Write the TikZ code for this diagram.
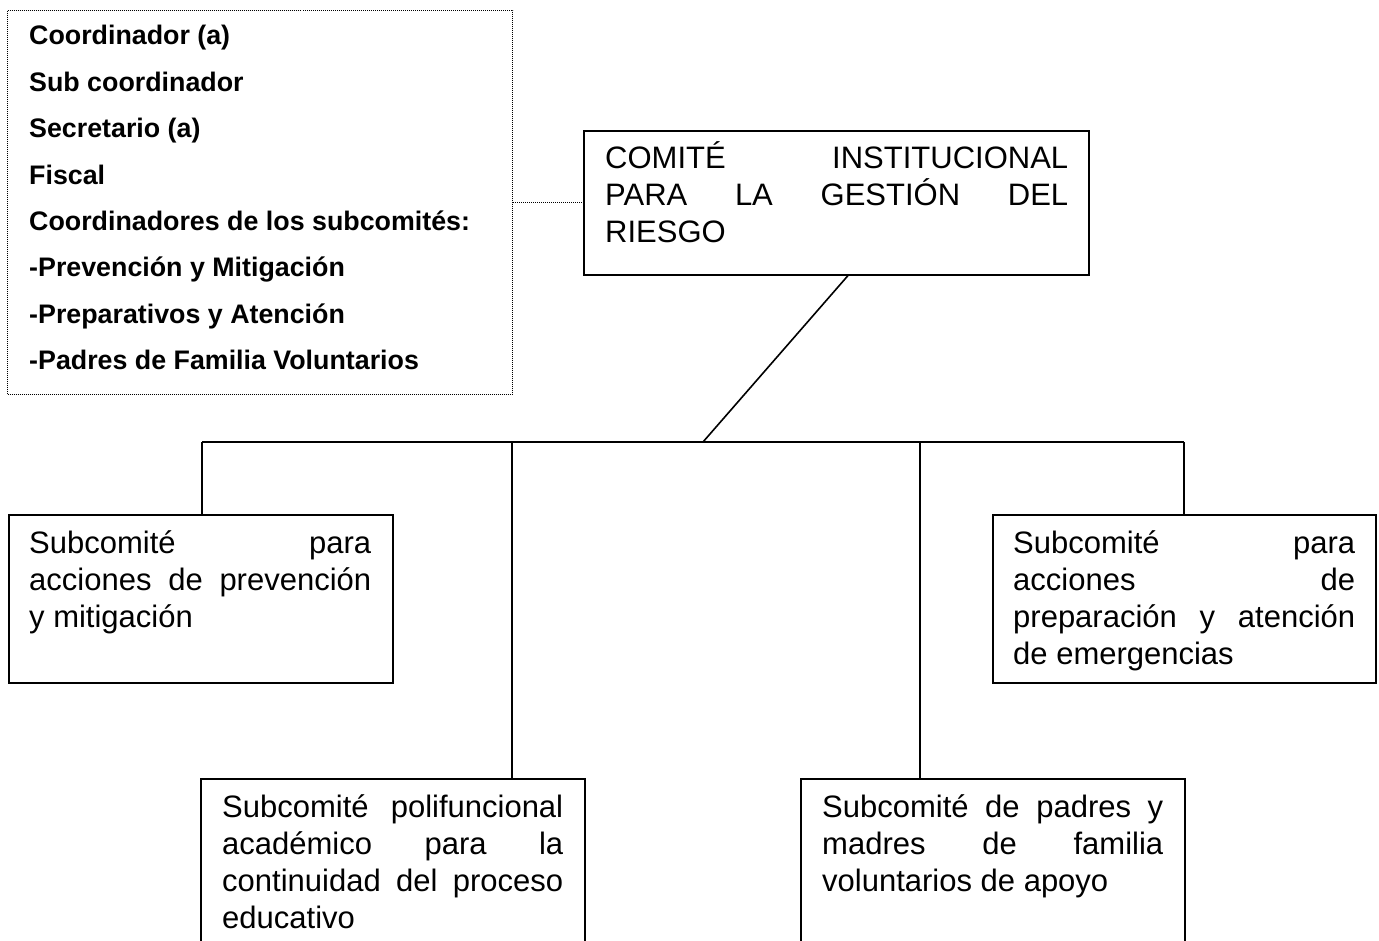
\documentclass[tikz,border=0pt]{standalone}
\usepackage{fontspec}
\setmainfont{Liberation Sans}
\usetikzlibrary{calc}
\newcommand\jline[2]{\makebox[#1pt][s]{#2}}
\begin{document}
\begin{tikzpicture}[x=1pt,y=-1pt]
\tikzset{
  box/.style={draw, line width=1.6pt, rectangle, inner sep=0pt, anchor=north west},
  dotbox/.style={draw, line width=1pt, dash pattern=on 1pt off 1pt, rectangle, inner sep=0pt, anchor=north west},
  txt/.style={anchor=base west, inner sep=0pt, align=left, font=\fontsize{31}{37}\selectfont},
  item/.style={anchor=base west, inner sep=0pt, font=\bfseries\fontsize{26.8}{30}\selectfont},
  link/.style={line width=1.6pt},
  dotlink/.style={line width=1pt, dash pattern=on 1pt off 1pt},
}
\clip (0,0) rectangle (1379,941);
\fill[white] (0,0) rectangle (1379,941);

% members box
\node[dotbox, minimum width=505pt, minimum height=384pt] (members) at (7,10) {};
\node[item] (m1) at (29,45) {Coordinador (a)};
\node[item] (m2) at (29,91.4) {Sub coordinador};
\node[item] (m3) at (29,137.8) {Secretario (a)};
\node[item] (m4) at (29,184.2) {Fiscal};
\node[item] (m5) at (29,230.6) {Coordinadores de los subcomités:};
\node[item] (m6) at (29,277) {-Prevención y Mitigación};
\node[item] (m7) at (29,323.4) {-Preparativos y Atención};
\node[item] (m8) at (29,369.8) {-Padres de Familia Voluntarios};

% main committee (base anchor = baseline of last line)
\node[box, minimum width=505pt, minimum height=144pt] (comite) at (583,130) {};
\node[txt] (comiteT) at (605,243) {\jline{463}{COMITÉ INSTITUCIONAL}\\\jline{463}{PARA LA GESTIÓN DEL}\\RIESGO};

% subcommittees
\node[box, minimum width=384pt, minimum height=168pt] (prev) at (8,514) {};
\node[txt] (prevT) at (29,627) {\jline{342}{Subcomité para}\\\jline{342}{acciones de prevención}\\y mitigación};

\node[box, minimum width=383pt, minimum height=168pt] (prep) at (992,514) {};
\node[txt] (prepT) at (1013,664) {\jline{342}{Subcomité para}\\\jline{342}{acciones de}\\\jline{342}{preparación y atención}\\de emergencias};

\node[box, minimum width=384pt, minimum height=220pt] (acad) at (200,778) {};
\node[txt] (acadT) at (222,928) {\jline{341}{Subcomité polifuncional}\\\jline{341}{académico para la}\\\jline{341}{continuidad del proceso}\\educativo};

\node[box, minimum width=384pt, minimum height=220pt] (padres) at (800,778) {};
\node[txt] (padresT) at (822,891) {\jline{341}{Subcomité de padres y}\\\jline{341}{madres de familia}\\voluntarios de apoyo};

% connectors
\coordinate (top) at ($(comite.south west)!0.523!(comite.south east)$);
\coordinate (hub) at (703,442);
\coordinate (barL) at (202,442);
\coordinate (barA) at (512,442);
\coordinate (barB) at (920,442);
\coordinate (barR) at (1184,442);

\draw[dotlink] (members.east |- comite.west) -- (comite.west);
\draw[link] (top) -- (hub);
\draw[link] (barL) -- (barR);
\draw[link] (barL) -- (barL |- prev.north);
\draw[link] (barA) -- (barA |- acad.north);
\draw[link] (barB) -- (barB |- padres.north);
\draw[link] (barR) -- (barR |- prep.north);
\end{tikzpicture}
\end{document}
